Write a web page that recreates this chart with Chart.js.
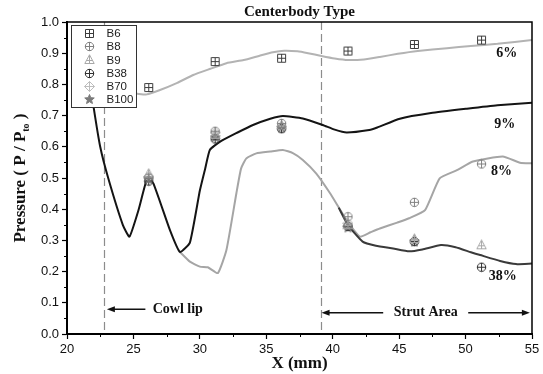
<!DOCTYPE html>
<html>
<head>
<meta charset="utf-8">
<title>Centerbody Type</title>
<script src="https://cdn.jsdelivr.net/npm/chart.js@4.4.1/dist/chart.umd.min.js"></script>
<style>
  html, body { margin: 0; padding: 0; background: #fff; }
  #wrap { width: 543px; height: 374px; }
</style>
</head>
<body>
<div id="wrap"><canvas id="chart" width="543" height="374"></canvas></div>
<script>
// ---- data ----
const probeX = [26.15, 31.15, 36.15, 41.15, 46.15, 51.2];
const b6   = [0.79, 0.873, 0.884, 0.907, 0.928, 0.942];
const b8   = [0.50, 0.65, 0.675, 0.376, 0.422, 0.545];
const b9   = [0.515, 0.64, 0.67, 0.35, 0.306, 0.286];
const b38  = [0.49, 0.625, 0.658, 0.345, 0.296, 0.214];
const b70  = [0.505, 0.645, 0.665, 0.355, 0.30, null];
const b100 = [0.495, 0.63, 0.66, 0.34, 0.295, null];

// CFD curves (bleed %)
const curve6X = [22.8, 23.8, 24.8, 25.3, 26.0, 27.0, 28.3, 29.5, 30.8, 32.0, 33.3, 34.5, 35.5, 36.35, 37.35, 38.15, 39.15, 40.15, 41.15, 42.35, 43.55, 44.9, 46.4, 48.6, 50.4, 52.4, 55];
const curve6Y = [0.80, 0.785, 0.772, 0.770, 0.768, 0.782, 0.805, 0.830, 0.850, 0.868, 0.878, 0.892, 0.903, 0.908, 0.906, 0.900, 0.891, 0.883, 0.878, 0.880, 0.888, 0.898, 0.907, 0.916, 0.923, 0.930, 0.942];

const curve9X = [21.7, 22.0, 22.5, 23.1, 24.2, 24.7, 25.4, 26.05, 26.5, 27.75, 28.5, 29.25, 30.0, 30.4, 30.75, 31.5, 32.8, 34.0, 35.3, 36.25, 37.75, 39.25, 40.15, 41.05, 42.75, 43.35, 45.05, 47.4, 50.1, 52.4, 55];
const curve9Y = [0.82, 0.728, 0.60, 0.50, 0.35, 0.312, 0.40, 0.50, 0.483, 0.333, 0.263, 0.293, 0.46, 0.53, 0.59, 0.616, 0.645, 0.670, 0.69, 0.699, 0.691, 0.670, 0.655, 0.646, 0.654, 0.662, 0.690, 0.708, 0.722, 0.733, 0.741];

const curve8X = [28.5, 29.25, 30.0, 30.6, 31.35, 32.0, 32.75, 33.1, 33.5, 34.25, 35.3, 36.25, 37.0, 37.75, 38.75, 39.8, 41.05, 42.05, 42.85, 43.55, 44.85, 45.75, 46.95, 48.05, 49.35, 50.55, 52.8, 54.1, 55];
const curve8Y = [0.263, 0.232, 0.216, 0.214, 0.195, 0.269, 0.451, 0.53, 0.563, 0.579, 0.585, 0.590, 0.580, 0.558, 0.515, 0.451, 0.365, 0.312, 0.326, 0.338, 0.357, 0.371, 0.397, 0.499, 0.525, 0.553, 0.569, 0.549, 0.547];

const curve38X = [40.45, 41.15, 42.25, 43.25, 44.55, 45.75, 46.75, 48.15, 49.25, 50.4, 51.1, 52.6, 53.8, 55];
const curve38Y = [0.405, 0.349, 0.296, 0.283, 0.274, 0.265, 0.271, 0.285, 0.278, 0.262, 0.253, 0.234, 0.224, 0.226];

const xTicks = [20, 25, 30, 35, 40, 45, 50, 55];

// ---- helpers ----
function pairs(xs, ys) {
  return xs.map((x, i) => ({ x: x, y: ys[i] })).filter(p => p.y !== null);
}

// little marker glyphs like the original plot symbols
function marker(kind, color) {
  const s = 11, m = 5.5;
  const c = document.createElement('canvas');
  c.width = s; c.height = s;
  const g = c.getContext('2d');
  g.strokeStyle = color; g.fillStyle = color; g.lineWidth = 1;
  g.beginPath();
  if (kind === 'square') {
    g.rect(1.5, 1.5, 8, 8);
    g.moveTo(m, 1.5); g.lineTo(m, 9.5);
    g.moveTo(1.5, m); g.lineTo(9.5, m);
  } else if (kind === 'circle') {
    g.arc(m, m, 4.2, 0, Math.PI * 2);
    g.moveTo(m, 1); g.lineTo(m, 10);
    g.moveTo(1, m); g.lineTo(10, m);
  } else if (kind === 'triangle') {
    g.moveTo(m, 0.8); g.lineTo(10.2, 9.5); g.lineTo(0.8, 9.5); g.closePath();
    g.moveTo(m, 0.8); g.lineTo(m, 9.5);
    g.moveTo(2.5, 6.5); g.lineTo(8.5, 6.5);
  } else if (kind === 'diamond') {
    g.moveTo(m, 0.5); g.lineTo(10.5, m); g.lineTo(m, 10.5); g.lineTo(0.5, m); g.closePath();
    g.moveTo(m, 0.5); g.lineTo(m, 10.5);
    g.moveTo(0.5, m); g.lineTo(10.5, m);
  } else if (kind === 'star') {
    for (let i = 0; i < 10; i++) {
      const r = i % 2 ? 2.2 : 5;
      const a = -Math.PI / 2 + i * Math.PI / 5;
      g.lineTo(m + r * Math.cos(a), m + r * Math.sin(a));
    }
    g.closePath();
    g.fill();
  }
  g.stroke();
  return c;
}

const symB6 = marker('square', '#3c3c3c');
const symB8 = marker('circle', '#808080');
const symB9 = marker('triangle', '#a8a8a8');
const symB38 = marker('circle', '#303030');
const symB70 = marker('diamond', '#bdbdbd');
const symB100 = marker('star', '#7a7a7a');

function probeSet(label, ys, sym) {
  return {
    type: 'scatter', label: label, data: pairs(probeX, ys),
    pointStyle: sym, pointRadius: 5, showLine: false, order: 0, symbol: sym
  };
}
function curveSet(label, xs, ys, color, order) {
  return {
    type: 'line', label: label, data: pairs(xs, ys),
    borderColor: color, borderWidth: 2, pointRadius: 0, tension: 0.15,
    fill: false, order: order
  };
}

const datasets = [
  probeSet('B6', b6, symB6),
  probeSet('B8', b8, symB8),
  probeSet('B9', b9, symB9),
  probeSet('B38', b38, symB38),
  probeSet('B70', b70, symB70),
  probeSet('B100', b100, symB100),
  curveSet('6%', curve6X, curve6Y, '#b3b3b3', 4),
  curveSet('8%', curve8X, curve8Y, '#a5a5a5', 3),
  curveSet('38%', curve38X, curve38Y, '#3a3a3a', 2),
  curveSet('9%', curve9X, curve9Y, '#141414', 1)
];

const SERIF = "'Liberation Serif', 'Times New Roman', serif";
const SANS = "'Liberation Sans', Arial, sans-serif";

function arrowHead(ctx, x, y, dir) {
  ctx.beginPath();
  ctx.moveTo(x, y);
  ctx.lineTo(x - dir * 8, y - 3);
  ctx.lineTo(x - dir * 8, y + 3);
  ctx.closePath();
  ctx.fill();
}

// annotations, frame, minor ticks, legend box and the y title
const decor = {
  id: 'decor',
  beforeDatasetsDraw(chart) {
    const { ctx, chartArea: a, scales: { x } } = chart;
    ctx.save();
    ctx.strokeStyle = '#8c8c8c';
    ctx.lineWidth = 1.2;
    ctx.setLineDash([8, 4]);
    [22.8, 39.1].forEach(v => {
      const px = Math.round(x.getPixelForValue(v)) + 0.5;
      ctx.beginPath(); ctx.moveTo(px, a.top); ctx.lineTo(px, a.bottom); ctx.stroke();
    });
    ctx.restore();
  },
  afterDatasetsDraw(chart) {
    const { ctx, chartArea: a, scales: { x, y } } = chart;
    ctx.save();

    // top / right frame
    ctx.strokeStyle = '#000';
    ctx.lineWidth = 1.5;
    ctx.beginPath();
    ctx.moveTo(a.left, a.top); ctx.lineTo(a.right, a.top); ctx.lineTo(a.right, a.bottom);
    ctx.stroke();

    // minor ticks
    ctx.lineWidth = 1;
    ctx.beginPath();
    for (let v = 0.05; v < 1; v += 0.1) {
      const py = Math.round(y.getPixelForValue(v)) + 0.5;
      ctx.moveTo(a.left - 3, py); ctx.lineTo(a.left, py);
    }
    for (let v = 22.5; v < 55; v += 5) {
      const px = Math.round(x.getPixelForValue(v)) + 0.5;
      ctx.moveTo(px, a.bottom); ctx.lineTo(px, a.bottom + 3);
    }
    ctx.stroke();

    // curve labels
    ctx.fillStyle = '#111';
    ctx.font = 'bold 14px ' + SERIF;
    ctx.textAlign = 'center';
    ctx.textBaseline = 'middle';
    [['6%', 53.1, 0.90], ['9%', 52.95, 0.673], ['8%', 52.7, 0.52], ['38%', 52.8, 0.186]].forEach(t => {
      ctx.fillText(t[0], x.getPixelForValue(t[1]), y.getPixelForValue(t[2]));
    });

    // Cowl lip
    ctx.strokeStyle = '#111';
    ctx.lineWidth = 1.5;
    let yy = y.getPixelForValue(0.079);
    let x0 = x.getPixelForValue(23.0), x1 = x.getPixelForValue(25.9);
    ctx.beginPath(); ctx.moveTo(x0 + 6, yy); ctx.lineTo(x1, yy); ctx.stroke();
    arrowHead(ctx, x0, yy, -1);
    ctx.textAlign = 'left';
    ctx.fillText('Cowl lip', x.getPixelForValue(26.45), yy);

    // Strut Area
    yy = y.getPixelForValue(0.068);
    x0 = x.getPixelForValue(39.16); x1 = x.getPixelForValue(54.84);
    ctx.beginPath();
    ctx.moveTo(x0 + 6, yy); ctx.lineTo(x.getPixelForValue(43.8), yy);
    ctx.moveTo(x.getPixelForValue(50.2), yy); ctx.lineTo(x1 - 6, yy);
    ctx.stroke();
    arrowHead(ctx, x0, yy, -1);
    arrowHead(ctx, x1, yy, 1);
    ctx.textAlign = 'center';
    ctx.fillText('Strut Area', x.getPixelForValue(47.0), yy);

    // legend box
    const lx = a.left + 4, ly = a.top + 3, lw = 65, lh = 82;
    ctx.fillStyle = '#fff';
    ctx.fillRect(lx, ly, lw, lh);
    ctx.strokeStyle = '#333';
    ctx.lineWidth = 1;
    ctx.strokeRect(lx + 0.5, ly + 0.5, lw, lh);
    ctx.font = '11.5px ' + SANS;
    ctx.fillStyle = '#222';
    ctx.textAlign = 'left';
    ctx.textBaseline = 'middle';
    chart.data.datasets.filter(d => d.symbol).forEach((d, i) => {
      const ry = ly + 8.5 + i * 13.2;
      ctx.drawImage(d.symbol, Math.round(lx + 18.5 - 5.5), Math.round(ry - 5.5));
      ctx.fillText(d.label, lx + 35.5, ry + 0.5);
    });

    ctx.restore();
  },
  afterDraw(chart) {
    const { ctx, chartArea: a } = chart;
    ctx.save();
    ctx.translate(21, (a.top + a.bottom) / 2);
    ctx.rotate(-Math.PI / 2);
    ctx.fillStyle = '#111';
    ctx.textBaseline = 'middle';
    ctx.textAlign = 'left';
    const main = 'bold 17px ' + SERIF, sub = 'bold 10px ' + SERIF;
    const p1 = 'Pressure ( P / P', p2 = 'to', p3 = ' )';
    ctx.font = main; const w1 = ctx.measureText(p1).width, w3 = ctx.measureText(p3).width;
    ctx.font = sub; const w2 = ctx.measureText(p2).width;
    let cx = -(w1 + w2 + w3) / 2;
    ctx.font = main; ctx.fillText(p1, cx, 0); cx += w1;
    ctx.font = sub; ctx.fillText(p2, cx, 5); cx += w2;
    ctx.font = main; ctx.fillText(p3, cx, 0);
    ctx.restore();
  }
};

new Chart(document.getElementById('chart'), {
  data: { datasets: datasets },
  plugins: [decor],
  options: {
    responsive: false,
    animation: false,
    devicePixelRatio: 1,
    layout: { padding: { top: 0, left: 0, right: 11, bottom: 0 } },
    plugins: {
      legend: { display: false },
      tooltip: { enabled: false },
      title: {
        display: true, text: 'Centerbody Type', fullSize: false, color: '#111',
        font: { family: SERIF, size: 15, weight: 'bold', lineHeight: 1.2 },
        padding: { top: 3, bottom: 1 }
      }
    },
    scales: {
      x: {
        type: 'linear', position: 'bottom', min: 20, max: 55,
        afterBuildTicks(s) { s.ticks = xTicks.map(v => ({ value: v })); },
        ticks: { font: { family: SANS, size: 13 }, color: '#111', padding: 3, maxRotation: 0 },
        grid: { drawOnChartArea: false, drawTicks: true, tickLength: 5, tickColor: '#000', tickWidth: 1.2 },
        border: { display: true, color: '#000', width: 2 },
        title: {
          display: true, text: 'X (mm)', color: '#111',
          font: { family: SERIF, size: 17, weight: 'bold', lineHeight: 1.2 },
          padding: { top: 0, bottom: 0 }
        },
        afterFit(s) { s.height = 40; }
      },
      y: {
        type: 'linear', min: 0, max: 1,
        ticks: {
          stepSize: 0.1, font: { family: SANS, size: 13 }, color: '#111', padding: 3,
          callback: v => Number(v).toFixed(1)
        },
        grid: { drawOnChartArea: false, drawTicks: true, tickLength: 5, tickColor: '#000', tickWidth: 1.2 },
        border: { display: true, color: '#000', width: 2 },
        title: { display: false },
        afterFit(s) { s.width = 67; }
      }
    }
  }
});
</script>
</body>
</html>
